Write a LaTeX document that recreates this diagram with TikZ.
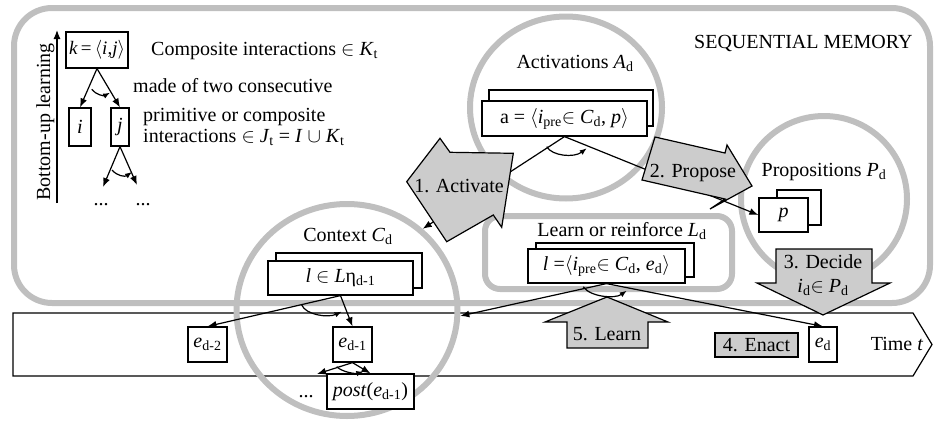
\documentclass[tikz,border=0pt]{standalone}
\usepackage{fix-cm}
\usepackage{fontspec}
\setmainfont{Liberation Serif}
\usetikzlibrary{arrows.meta,shapes.geometric}
\definecolor{ring}{RGB}{191,191,191}
\definecolor{blk}{RGB}{204,204,204}
\newcommand\sbs[1]{\textsubscript{#1}}
\newcommand\mi[1]{\textit{#1}}
\begin{document}
\begin{tikzpicture}[x=1pt,y=-1pt,
  every node/.style={font=\fontsize{20}{22}\selectfont, inner sep=0pt},
  ringline/.style={draw=ring, line width=6pt},
  boxed/.style={draw, fill=white, line width=1.2pt},
  conn/.style={line width=1.2pt, -{Latex[length=9pt,width=7pt]}},
  smallarc/.style={line width=1.2pt, -{Latex[length=7pt,width=5.5pt]}},
  blockarrow/.style={draw, fill=blk, line width=1.2pt, line join=miter}
]
\useasboundingbox (0,0) rectangle (935,426);
% time band
\draw[line width=1.2pt] (13,313) -- (913,313) -- (932,344.5) -- (913,376) -- (13,376) -- cycle;
% sequential memory frame
\draw[ringline, rounded corners=38pt] (14,8) rectangle (930,303);
% learn or reinforce frame
\node[ringline, rounded corners=15pt, minimum width=247pt, minimum height=73pt] (lbox) at (608.5,252.5) {};
% circles
\node[ringline, ellipse, minimum width=192pt, minimum height=182pt] (actc) at (566,107.5) {};
\node[ringline, ellipse, minimum width=166pt, minimum height=166pt] (propc) at (824,199) {};
\node[ringline, ellipse, minimum width=221pt, minimum height=212pt] (ctxc) at (347,310) {};

% left legend
\coordinate (bub) at (57,203);
\coordinate (but) at (57,30);
\draw[conn] (bub) -- (but);
\node[rotate=90, anchor=base] (bul) at (50,122) {Bottom-up learning};
\node[boxed, minimum width=62pt, minimum height=36pt, font=\fontsize{19}{22}\selectfont] (kbox) at (97,50) {\mi{k}\,=\,$\langle$\mi{i},\mi{j}$\rangle$};
\node[boxed, minimum width=22pt, minimum height=38pt] (ibox) at (80,127) {\mi{i}};
\node[boxed, minimum width=18pt, minimum height=38pt] (jbox) at (120,127) {\mi{j}};
\draw[conn] (kbox.south) -- (ibox.north);
\draw[conn] (kbox.south) -- (jbox.north);
\draw[smallarc] (91.7,89.3) .. controls (96,95) and (104,96) .. (110,92.7);
\coordinate (jl) at (103,187);
\coordinate (jr) at (137,185);
\draw[conn] (jbox.south) -- (jl);
\draw[conn] (jbox.south) -- (jr);
\draw[smallarc] (112,170) .. controls (117,176) and (125,177) .. (132,172);
\node[anchor=base] (dots1) at (101,205) {...};
\node[anchor=base] (dots2) at (143,205) {...};
\node[anchor=base west] (t1) at (151,55) {Composite interactions $\in$ \mi{K}\sbs{t}};
\node[anchor=base west] (t2) at (133,92) {made of two consecutive};
\node[anchor=base west, align=left, font=\fontsize{20}{20.5}\selectfont] (t3) at (143,142) {primitive or composite\\interactions $\in$ \mi{J}\sbs{t} = \mi{I} $\cup$ \mi{K}\sbs{t}};
\node[anchor=base west] (seqlbl) at (694,48) {SEQUENTIAL MEMORY};

% activations
\node[anchor=base] (lactv) at (575,68) {Activations \mi{A}\sbs{d}};
\node[boxed, minimum width=164pt, minimum height=36pt] (actback) at (571,108) {};
\node[boxed, minimum width=165pt, minimum height=35pt] (actfront) at (564.5,118.5) {a = $\langle$\mi{i}\sbs{pre}$\in$ \mi{C}\sbs{d}, \mi{p}$\rangle$};
% propositions
\node[anchor=base] (lprops) at (824,176) {Propositions \mi{P}\sbs{d}};
\node[boxed, minimum width=44pt, minimum height=35pt] (pback) at (799,207.5) {};
\node[boxed, minimum width=49pt, minimum height=34pt] (pfront) at (783.5,215) {\mi{p}};
% learn or reinforce
\node[anchor=base] (llr) at (622,236) {Learn or reinforce \mi{L}\sbs{d}};
\node[boxed, minimum width=158pt, minimum height=34pt] (lback) at (615,260) {};
\node[boxed, minimum width=157pt, minimum height=34pt] (lfront) at (606.5,266) {\mi{l} =$\langle$\mi{i}\sbs{pre}$\in$ \mi{C}\sbs{d}, \mi{e}\sbs{d}$\rangle$};
% context
\node[anchor=base] (lctx) at (348,241) {Context \mi{C}\sbs{d}};
\node[boxed, minimum width=146pt, minimum height=35pt] (cback) at (349,270.5) {};
\node[boxed, minimum width=145pt, minimum height=34pt] (cfront) at (340.5,278) {\mi{l} $\in$ \mi{L}η\sbs{d-1}};
% time boxes
\node[boxed, minimum width=39pt, minimum height=35pt] (edm2) at (207.5,344.5) {\mi{e}\sbs{d-2}};
\node[boxed, minimum width=39pt, minimum height=35pt] (edm1) at (352.5,344.5) {\mi{e}\sbs{d-1}};
\node[boxed, minimum width=87pt, minimum height=35pt] (post) at (370.5,391.5) {\mi{post}(\mi{e}\sbs{d-1})};
\node[boxed, minimum width=28pt, minimum height=35pt] (ed) at (823,344.5) {\mi{e}\sbs{d}};
\node[draw, fill=blk, line width=1.2pt, minimum width=83pt, minimum height=24pt] (enact) at (756.5,345) {4. Enact};
\node[anchor=base] (ltime) at (897,350) {Time \mi{t}};
\node[anchor=base] (dots3) at (306,397) {...};

% connectors
\draw[conn] (actfront.south) -- (ctxc.47);
\draw[conn] (actfront.south) -- (pfront.west);
\draw[smallarc] (546.7,146.7) .. controls (552,156) and (574,158) .. (586.7,148.3);
\draw[conn] (cfront.south) -- (edm2.north);
\draw[conn] (cfront.south) -- (edm1.north);
\draw[smallarc] (301.7,305) .. controls (306,315) and (328,318) .. (341.7,311.7);
\draw[conn] (lfront.south) -- (ctxc.-3);
\draw[conn] (lfront.south) -- (ed.north);
\draw[smallarc] (583.3,286.7) .. controls (590,297) and (615,299) .. (626.7,290.7);
\coordinate (prevc) at (317,374);
\draw[conn] (edm1.south) -- (prevc);
\draw[conn] (edm1.south) -- (post.north);
\draw[smallarc] (336.7,366.7) .. controls (342,372) and (355,374) .. (363.3,371.7);

% block arrows
\draw[blockarrow] (406.7,181.7) -- (440,138.3) -- (450,152.3) -- (513.3,153.3) -- (501.7,227.3) -- (493.3,215) -- (446.7,241.7) -- cycle;
\node[anchor=base] (lact) at (459,192) {1. Activate};
\draw[blockarrow] (655,137) -- (725,153) -- (727,145) -- (752,186) -- (710,209) -- (725,199) -- (642,180) -- cycle;
\node[anchor=base] (lprop) at (693,177) {2. Propose};
\draw[blockarrow] (776,249) -- (872,249) -- (872,283) -- (890,283) -- (823,315) -- (757,283) -- (776,283) -- cycle;
\node[anchor=base] (ldec) at (823,268) {3. Decide};
\node[anchor=base] (ldec2) at (823,292) {\mi{i}\sbs{d}$\in$ \mi{P}\sbs{d}};
\draw[blockarrow] (607,297) -- (668,322) -- (648,322) -- (648,348) -- (567,348) -- (567,322) -- (545,322) -- cycle;
\node[anchor=base] (llearn) at (607,340) {5. Learn};
\end{tikzpicture}
\end{document}
